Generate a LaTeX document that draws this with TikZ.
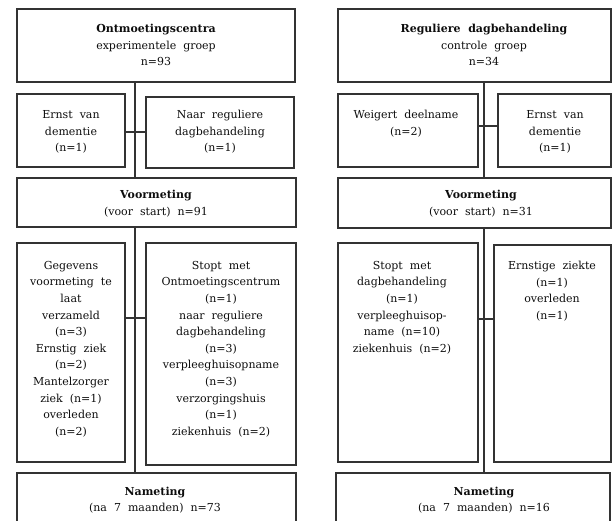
\documentclass[tikz,border=0pt]{standalone}
\usepackage{fontspec}
\setmainfont{DejaVu Serif}
\newcommand\flowfont{\fontsize{11}{16.6}\selectfont}
\tikzset{>=stealth}
\tikzset{
  box/.style={draw=black!80, line width=1.5pt, inner sep=0pt},
  txt/.style={align=center, inner sep=0pt, text=black!95, font=\flowfont},
  link/.style={draw=black!80, line width=1.1pt}
}

\begin{document}
\begin{tikzpicture}[x=1pt,y=-1pt]
    \useasboundingbox (0,0) rectangle (612,521);
    \clip (0,0) rectangle (612,521);
    % experimentele groep
    \node[box, minimum width=278pt, minimum height=73pt] (lt) at (156,45.5) {};
    \node[box, minimum width=108pt, minimum height=73pt] (le) at (71,130.5) {};
    \node[box, minimum width=148pt, minimum height=71pt] (lr) at (220,132.5) {};
    \node[box, minimum width=279pt, minimum height=49pt] (lv) at (156.5,202.5) {};
    \node[box, minimum width=108pt, minimum height=219pt] (lg) at (71,352.5) {};
    \node[box, minimum width=150pt, minimum height=222pt] (ls) at (221,354) {};
    \node[box, minimum width=279pt, minimum height=54pt] (ln) at (156.5,500) {};
    \node[txt] (lt-t) at (156,45) {\textbf{Ontmoetingscentra}\\experimentele~ groep\\n=93};
    \node[txt] (le-t) at (71,132) {Ernst~ van\\dementie\\(n=1)};
    \node[txt] (lr-t) at (220,132) {Naar~ reguliere\\dagbehandeling\\(n=1)};
    \node[txt] (lv-t) at (156,203.5) {\textbf{Voormeting}\\(voor~ start)~ n=91};
    \node[txt] (lg-t) at (71,349) {Gegevens\\voormeting~ te\\laat\\verzameld\\(n=3)\\Ernstig~ ziek\\(n=2)\\Mantelzorger\\ziek~ (n=1)\\overleden\\(n=2)};
    \node[txt] (ls-t) at (221,349) {Stopt~ met\\Ontmoetingscentrum\\(n=1)\\naar~ reguliere\\dagbehandeling\\(n=3)\\verpleeghuisopname\\(n=3)\\verzorgingshuis\\(n=1)\\ziekenhuis~ (n=2)};
    \node[txt] (ln-t) at (155,500) {\textbf{Nameting}\\(na~ 7~ maanden)~ n=73};
    % controle groep
    \node[box, minimum width=273pt, minimum height=73pt] (rt) at (474.5,45.5) {};
    \node[box, minimum width=140pt, minimum height=73pt] (rw) at (408,130.5) {};
    \node[box, minimum width=113pt, minimum height=73pt] (re) at (554.5,130.5) {};
    \node[box, minimum width=273pt, minimum height=50pt] (rv) at (474.5,203) {};
    \node[box, minimum width=140pt, minimum height=219pt] (rs) at (408,352.5) {};
    \node[box, minimum width=117pt, minimum height=217pt] (rz) at (552.5,353.5) {};
    \node[box, minimum width=274pt, minimum height=54pt] (rn) at (473,500) {};
    \node[txt] (rt-t) at (484,45) {\textbf{Reguliere~ dagbehandeling}\\controle~ groep\\n=34};
    \node[txt] (rw-t) at (406,123.5) {Weigert~ deelname\\(n=2)};
    \node[txt] (re-t) at (555,132) {Ernst~ van\\dementie\\(n=1)};
    \node[txt] (rv-t) at (481,203.5) {\textbf{Voormeting}\\(voor~ start)~ n=31};
    \node[txt] (rs-t) at (402,307.5) {Stopt~ met\\dagbehandeling\\(n=1)\\verpleeghuisop-\\name~ (n=10)\\ziekenhuis~ (n=2)};
    \node[txt] (rz-t) at (552,291) {Ernstige~ ziekte\\(n=1)\\overleden\\(n=1)};
    \node[txt] (rn-t) at (484,500) {\textbf{Nameting}\\(na~ 7~ maanden)~ n=16};
    % lijnen
    \coordinate (lcol) at (135,0);
    \coordinate (rcol) at (484,0);
    \coordinate (lh1) at (0,132);
    \coordinate (lh2) at (0,318);
    \coordinate (rh1) at (0,126);
    \coordinate (rh2) at (0,319);
    \draw[link] (lt.south -| lcol) -- (lv.north -| lcol);
    \draw[link] (lv.south -| lcol) -- (ln.north -| lcol);
    \draw[link] (le.east |- lh1) -- (lr.west |- lh1);
    \draw[link] (lg.east |- lh2) -- (ls.west |- lh2);
    \draw[link] (rt.south -| rcol) -- (rv.north -| rcol);
    \draw[link] (rv.south -| rcol) -- (rn.north -| rcol);
    \draw[link] (rw.east |- rh1) -- (re.west |- rh1);
    \draw[link] (rs.east |- rh2) -- (rz.west |- rh2);
\end{tikzpicture}
\end{document}
